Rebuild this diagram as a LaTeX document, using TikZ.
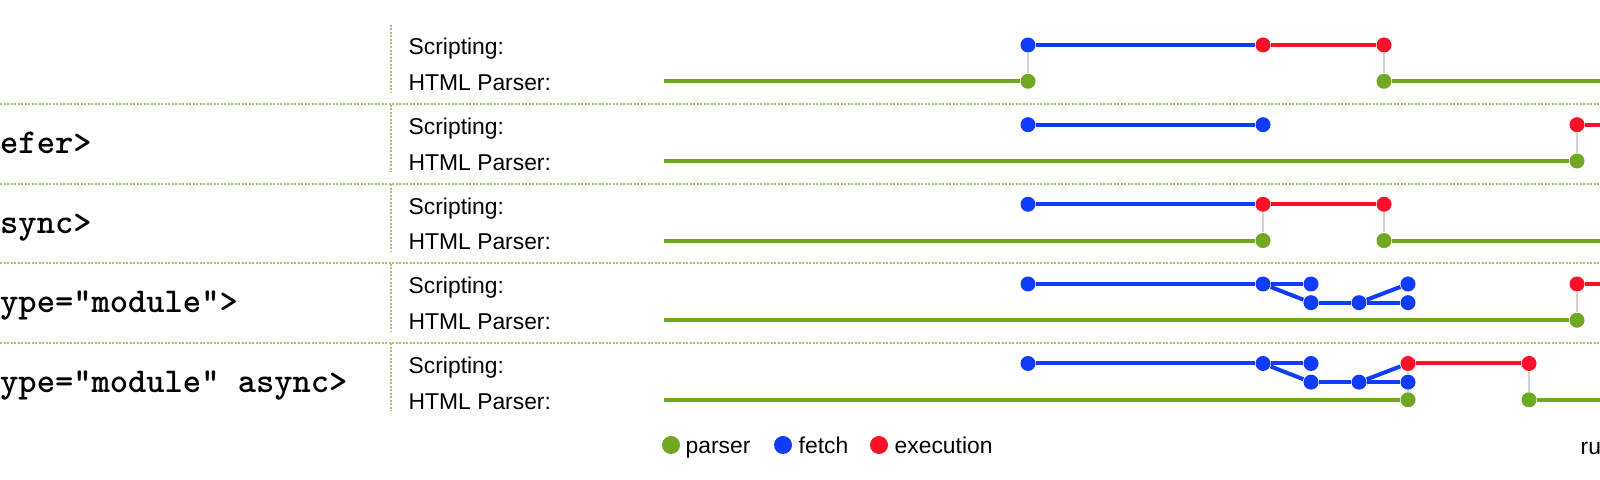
\documentclass[tikz,border=0pt]{standalone}
\usepackage{fontspec}
\setmainfont{Liberation Sans}
\definecolor{G}{RGB}{112, 168, 36}
\definecolor{B}{RGB}{16, 60, 255}
\definecolor{R}{RGB}{255, 16, 40}
\definecolor{D}{RGB}{160, 196, 104}
\definecolor{C}{RGB}{210, 210, 210}

\begin{document}
\begin{tikzpicture}[x=0.01cm, y=-0.01cm,
  tdot/.style={circle, fill=#1, inner sep=0pt, minimum size=0.15cm},
  legdot/.style={circle, fill=#1, inner sep=0pt, minimum size=0.18cm},
  track/.style={#1, line width=0.04cm},
  link/.style={C, line width=0.02cm},
  divider/.style={D, line width=0.02cm, dash pattern=on 0.02cm off 0.015cm},
  lab/.style={anchor=base west, inner sep=0pt, font=\fontsize{6.5}{7.5}\selectfont},
  tag/.style={anchor=base west, inner sep=0pt, font=\fontsize{9.9}{11}\selectfont\ttfamily\bfseries}]
  \useasboundingbox (0,0) rectangle (1600,480);

  %# SEPARADORES
  \draw[divider] (0,104.3) -- (1600,104.3);
  \draw[divider] (0,183.9) -- (1600,183.9);
  \draw[divider] (0,263.5) -- (1600,263.5);
  \draw[divider] (0,343.2) -- (1600,343.2);
  \draw[divider] (391,25) -- (391,92);
  \draw[divider] (391,104.7) -- (391,171.7);
  \draw[divider] (391,184.3) -- (391,251.3);
  \draw[divider] (391,264) -- (391,331);
  \draw[divider] (391,343.5) -- (391,410.5);

  %# ETIQUETAS
  \node[tag] (t2) at (-0.5,153.5) {efer>};
  \node[tag] (t3) at (-0.5,233.5) {sync>};
  \node[tag] (t4) at (-0.5,313) {ype="module">};
  \node[tag] (t5) at (-0.5,392.7) {ype="module" async>};
  \node[lab] (sc1) at (408,55) {Scripting:};
  \node[lab] (hp1) at (408,90.6) {HTML Parser:};
  \node[lab] (sc2) at (408,134.7) {Scripting:};
  \node[lab] (hp2) at (408,170.3) {HTML Parser:};
  \node[lab] (sc3) at (408,214.3) {Scripting:};
  \node[lab] (hp3) at (408,249.9) {HTML Parser:};
  \node[lab] (sc4) at (408,294) {Scripting:};
  \node[lab] (hp4) at (408,329.6) {HTML Parser:};
  \node[lab] (sc5) at (408,373.5) {Scripting:};
  \node[lab] (hp5) at (408,409.1) {HTML Parser:};

  %# FILA 1
  \coordinate (p1a) at (664,81.3);
  \coordinate (p1z) at (1600,81.3);
  \node[tdot=G] (p1b) at (1028,81.3) {};
  \node[tdot=B] (s1b) at (1028,45) {};
  \node[tdot=R] (s1c) at (1263,45) {};
  \node[tdot=R] (s1g) at (1384,45) {};
  \node[tdot=G] (p1g) at (1384,81.3) {};
  \draw[track=G] (p1a) -- (p1b);
  \draw[link] (s1b) -- (p1b);
  \draw[track=B] (s1b) -- (s1c);
  \draw[track=R] (s1c) -- (s1g);
  \draw[link] (s1g) -- (p1g);
  \draw[track=G] (p1g) -- (p1z);

  %# FILA 2
  \coordinate (p2a) at (664,161);
  \coordinate (s2z) at (1600,124.7);
  \node[tdot=B] (s2b) at (1028,124.7) {};
  \node[tdot=B] (s2c) at (1263,124.7) {};
  \node[tdot=R] (s2k) at (1577,124.7) {};
  \node[tdot=G] (p2k) at (1577,161) {};
  \draw[track=B] (s2b) -- (s2c);
  \draw[track=G] (p2a) -- (p2k);
  \draw[link] (s2k) -- (p2k);
  \draw[track=R] (s2k) -- (s2z);

  %# FILA 3
  \coordinate (p3a) at (664,240.6);
  \coordinate (p3z) at (1600,240.6);
  \node[tdot=B] (s3b) at (1028,204.3) {};
  \node[tdot=R] (s3c) at (1263,204.3) {};
  \node[tdot=R] (s3g) at (1384,204.3) {};
  \node[tdot=G] (p3c) at (1263,240.6) {};
  \node[tdot=G] (p3g) at (1384,240.6) {};
  \draw[track=G] (p3a) -- (p3c);
  \draw[link] (s3c) -- (p3c);
  \draw[track=B] (s3b) -- (s3c);
  \draw[track=R] (s3c) -- (s3g);
  \draw[link] (s3g) -- (p3g);
  \draw[track=G] (p3g) -- (p3z);

  %# FILA 4
  \coordinate (p4a) at (664,320.3);
  \coordinate (s4z) at (1600,284);
  \node[tdot=B] (s4b) at (1028,284) {};
  \node[tdot=B] (s4c) at (1263,284) {};
  \node[tdot=B] (s4d) at (1311,284) {};
  \node[tdot=B] (m4d) at (1311,302.7) {};
  \node[tdot=B] (m4e) at (1359,302.7) {};
  \node[tdot=B] (s4f) at (1408,284) {};
  \node[tdot=B] (m4f) at (1408,302.7) {};
  \node[tdot=R] (s4k) at (1577,284) {};
  \node[tdot=G] (p4k) at (1577,320.3) {};
  \draw[track=B] (s4b) -- (s4c);
  \draw[track=B] (s4c) -- (s4d);
  \draw[track=B] (s4c) -- (m4d);
  \draw[track=B] (m4d) -- (m4e);
  \draw[track=B] (m4e) -- (m4f);
  \draw[track=B] (m4e) -- (s4f);
  \draw[track=G] (p4a) -- (p4k);
  \draw[link] (s4k) -- (p4k);
  \draw[track=R] (s4k) -- (s4z);

  %# FILA 5
  \coordinate (p5a) at (664,399.8);
  \coordinate (p5z) at (1600,399.8);
  \node[tdot=B] (s5b) at (1028,363.5) {};
  \node[tdot=B] (s5c) at (1263,363.5) {};
  \node[tdot=B] (s5d) at (1311,363.5) {};
  \node[tdot=B] (m5d) at (1311,382.2) {};
  \node[tdot=B] (m5e) at (1359,382.2) {};
  \node[tdot=B] (m5f) at (1408,382.2) {};
  \node[tdot=R] (s5f) at (1408,363.5) {};
  \node[tdot=R] (s5h) at (1529,363.5) {};
  \node[tdot=G] (p5f) at (1408,399.8) {};
  \node[tdot=G] (p5h) at (1529,399.8) {};
  \draw[track=B] (s5b) -- (s5c);
  \draw[track=B] (s5c) -- (s5d);
  \draw[track=B] (s5c) -- (m5d);
  \draw[track=B] (m5d) -- (m5e);
  \draw[track=B] (m5e) -- (m5f);
  \draw[track=B] (m5e) -- (s5f);
  \draw[track=R] (s5f) -- (s5h);
  \draw[link] (s5f) -- (m5f);
  \draw[link] (m5f) -- (p5f);
  \draw[link] (s5h) -- (p5h);
  \draw[track=G] (p5a) -- (p5f);
  \draw[track=G] (p5h) -- (p5z);

  %# LEYENDA
  \node[legdot=G] (kg) at (671,445) {};
  \node[lab] (kgt) at (685,453.3) {parser};
  \node[legdot=B] (kb) at (783,445) {};
  \node[lab] (kbt) at (798,453.3) {fetch};
  \node[legdot=R] (kr) at (879,445) {};
  \node[lab] (krt) at (894,453.3) {execution};
  \node[lab] (kru) at (1580,455) {ru};
\end{tikzpicture}
\end{document}
